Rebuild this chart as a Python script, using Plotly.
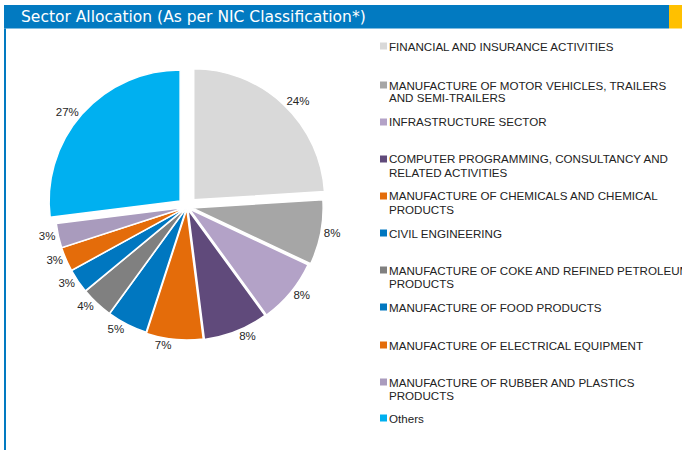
import plotly.graph_objects as go

# ----- data -----
sectors = [
    "FINANCIAL AND INSURANCE ACTIVITIES",
    "MANUFACTURE OF MOTOR VEHICLES, TRAILERS<br>AND SEMI-TRAILERS",
    "INFRASTRUCTURE SECTOR",
    "COMPUTER PROGRAMMING, CONSULTANCY AND<br>RELATED ACTIVITIES",
    "MANUFACTURE OF CHEMICALS AND CHEMICAL<br>PRODUCTS",
    "CIVIL ENGINEERING",
    "MANUFACTURE OF COKE AND REFINED PETROLEUM<br>PRODUCTS",
    "MANUFACTURE OF FOOD PRODUCTS",
    "MANUFACTURE OF ELECTRICAL EQUIPMENT",
    "MANUFACTURE OF RUBBER AND PLASTICS<br>PRODUCTS",
    "Others",
]
allocation = [24, 8, 8, 8, 7, 5, 4, 3, 3, 3, 27]
slice_colors = [
    "#D9D9D9", "#A6A6A6", "#B3A2C7", "#604A7B", "#E46C0A", "#0077C0",
    "#808080", "#0077C0", "#E46C0A", "#A99BBD", "#00B0F0",
]

W, H = 682, 450

# how far each slice is pulled out
pulls = [0.075, 0.04, 0.025, 0.02, 0.015, 0.006, 0.006, 0.006, 0.006, 0.006, 0.07]


def px_x(x):
    return x / W


def px_y(y):
    return 1 - y / H


# pie placement (centre 187,207 ; radius ~131)
cx, cy, r = 187, 207, 131
half = r * (1 + max(pulls))

fig = go.Figure()
fig.add_trace(
    go.Pie(
        labels=sectors,
        values=allocation,
        sort=False,
        direction="clockwise",
        rotation=0,
        pull=pulls,
        marker=dict(colors=slice_colors, line=dict(color="white", width=1.5)),
        texttemplate="%{value}%",
        textposition="outside",
        textfont=dict(family="Liberation Sans, Arial", size=11.5, color="#262626"),
        domain=dict(
            x=[px_x(cx - half), px_x(cx + half)],
            y=[px_y(cy + half), px_y(cy - half)],
        ),
        showlegend=False,
        hoverinfo="label+percent",
    )
)

shapes = [
    # header bar
    dict(type="rect", xref="paper", yref="paper", x0=px_x(4), x1=px_x(669),
         y0=px_y(28.5), y1=px_y(5), fillcolor="#027AC1", line_width=0, layer="below"),
    dict(type="rect", xref="paper", yref="paper", x0=px_x(669), x1=1,
         y0=px_y(28.5), y1=px_y(5), fillcolor="#FFC000", line_width=0, layer="below"),
    # left border
    dict(type="rect", xref="paper", yref="paper", x0=px_x(4), x1=px_x(6),
         y0=0, y1=px_y(28.5), fillcolor="#027AC1", line_width=0, layer="below"),
]

annotations = [
    dict(text="Sector Allocation (As per NIC Classification*)", xref="paper", yref="paper",
         x=px_x(19), y=px_y(17), xanchor="left", yanchor="middle", showarrow=False,
         font=dict(family="DejaVu Sans", size=15.5, color="white")),
]

# manual legend, one slot per sector, 13px between wrapped lines
slot_y = [46, 85, 122, 159, 196, 233, 270, 307, 345, 382, 418]
for name, col, yc in zip(sectors, slice_colors, slot_y):
    shapes.append(
        dict(type="rect", xref="paper", yref="paper", x0=px_x(380), x1=px_x(387),
             y0=px_y(yc + 3.5), y1=px_y(yc - 3.5), fillcolor=col, line_width=0)
    )
    for k, line in enumerate(name.split("<br>")):
        annotations.append(
            dict(text=line, xref="paper", yref="paper", x=px_x(387),
                 y=px_y(yc + k * 13), xanchor="left", yanchor="middle",
                 align="left", showarrow=False,
                 font=dict(family="Liberation Sans, Arial", size=11.6, color="#222222"))
        )

fig.update_layout(
    width=W,
    height=H,
    margin=dict(l=0, r=0, t=0, b=0),
    paper_bgcolor="white",
    plot_bgcolor="white",
    shapes=shapes,
    annotations=annotations,
)

fig.write_html(
    "out.html",
    config={"displayModeBar": False},
    post_script="document.body.style.margin='0';",
)
